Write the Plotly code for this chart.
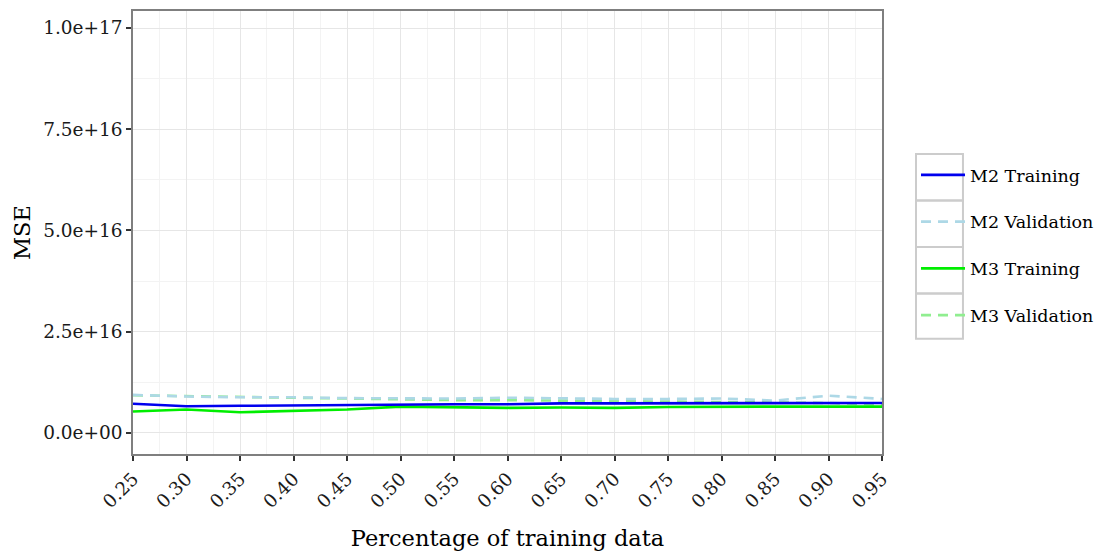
import plotly.graph_objects as go

pct = [0.25, 0.30, 0.35, 0.40, 0.45, 0.50, 0.55, 0.60, 0.65, 0.70, 0.75, 0.80, 0.85, 0.90, 0.95]
x_ticktext = ["0.25", "0.30", "0.35", "0.40", "0.45", "0.50", "0.55", "0.60", "0.65", "0.70",
              "0.75", "0.80", "0.85", "0.90", "0.95"]

m2_train = [7.2e15, 6.6e15, 6.7e15, 6.8e15, 7.0e15, 7.0e15, 7.1e15, 7.1e15, 7.3e15, 7.3e15,
            7.3e15, 7.3e15, 7.3e15, 7.4e15, 7.4e15]
m2_val = [9.4e15, 9.0e15, 8.8e15, 8.8e15, 8.6e15, 8.6e15, 8.5e15, 8.7e15, 8.5e15, 8.4e15,
          8.4e15, 8.5e15, 8.0e15, 9.2e15, 8.4e15]
m3_train = [5.3e15, 5.8e15, 5.1e15, 5.5e15, 5.8e15, 6.5e15, 6.4e15, 6.2e15, 6.3e15, 6.2e15,
            6.4e15, 6.5e15, 6.5e15, 6.5e15, 6.5e15]
m3_val = [9.3e15, 9.1e15, 8.8e15, 8.7e15, 8.5e15, 8.3e15, 8.1e15, 8.1e15, 8.0e15, 7.9e15,
          7.8e15, 7.7e15, 7.6e15, 7.4e15, 7.0e15]

y_tickvals = [0, 2.5e16, 5.0e16, 7.5e16, 1.0e17]
y_ticktext = ["0.0e+00", "2.5e+16", "5.0e+16", "7.5e+16", "1.0e+17"]

TICK_FONT = dict(family="DejaVu Serif", size=18.5, color="#1a1a1a")
TITLE_FONT = dict(family="DejaVu Serif", size=22.5, color="#000000")

fig = go.Figure()
series = [
    ("M3 Validation", m3_val, "#90EE90", "10px,7px", 4),
    ("M2 Validation", m2_val, "#ADD8E6", "10px,7px", 2),
    ("M3 Training", m3_train, "#00EE00", "solid", 3),
    ("M2 Training", m2_train, "#0000EE", "solid", 1),
]
for name, vals, col, dash, rank in series:
    fig.add_trace(go.Scatter(
        x=pct, y=vals, mode="lines", name=name,
        line=dict(color=col, width=2.6, dash=dash),
        legendgroup=name, legendrank=rank,
    ))

fig.update_layout(
    width=1095, height=550,
    margin=dict(l=125, r=221, t=1, b=104),
    paper_bgcolor="white", plot_bgcolor="white",
    font=dict(family="DejaVu Serif", size=17, color="#000000"),
    showlegend=True,
    legend=dict(
        x=1.0454, xanchor="left", y=0.6705, yanchor="top",
        tracegroupgap=21, font=dict(family="DejaVu Serif", size=17.5, color="#000000"),
        bgcolor="rgba(0,0,0,0)", itemwidth=44,
    ),
)
fig.update_xaxes(
    range=[0.25, 0.95], tickvals=pct, ticktext=x_ticktext, tickangle=-45,
    ticks="outside", ticklen=5, tickwidth=1.5, tickcolor="#333333",
    showline=True, linecolor="#7f7f7f", linewidth=1.5, mirror=True,
    showgrid=True, gridcolor="#e6e6e6", gridwidth=1.2,
    minor=dict(showgrid=True, gridcolor="#f3f3f3", gridwidth=1, dtick=0.05, tick0=0.275),
    zeroline=False, tickfont=TICK_FONT,
    title=dict(text="Percentage of training data", font=TITLE_FONT, standoff=19),
)
fig.update_yaxes(
    range=[-5.2e15, 1.042e17], tickvals=y_tickvals, ticktext=y_ticktext,
    ticks="outside", ticklen=5, tickwidth=1.5, tickcolor="#333333",
    showline=True, linecolor="#7f7f7f", linewidth=1.5, mirror=True,
    showgrid=True, gridcolor="#e6e6e6", gridwidth=1.2,
    minor=dict(showgrid=True, gridcolor="#f3f3f3", gridwidth=1, dtick=2.5e16, tick0=1.25e16),
    zeroline=False, tickfont=TICK_FONT,
    title=dict(text="MSE", font=TITLE_FONT, standoff=6),
)

# legend key boxes (ggplot style)
box_edges = [0.6771, 0.5724, 0.4674, 0.3625, 0.2600]
for i in range(4):
    fig.add_shape(type="rect", xref="paper", yref="paper",
                  x0=1.0454, x1=1.1081, y0=box_edges[i + 1], y1=box_edges[i],
                  line=dict(color="#cccccc", width=2), fillcolor="rgba(0,0,0,0)")

fig.write_html("out.html")
